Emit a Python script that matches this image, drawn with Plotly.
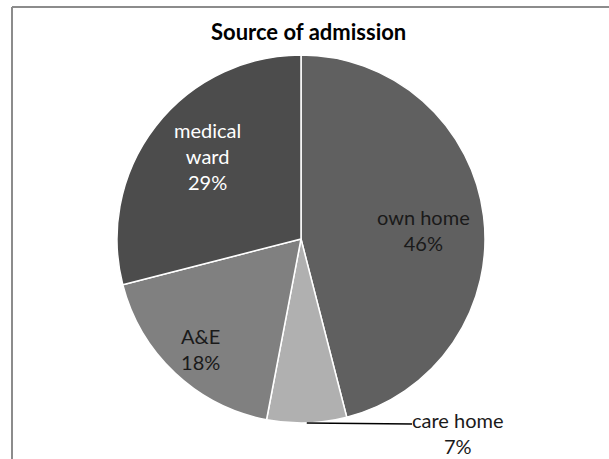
import math
import plotly.graph_objects as go

# Admission sources (percent of patients)
categories = ["own home", "care home", "A&E", "medical ward"]
shares = [46, 7, 18, 29]
slice_colors = ["#606060", "#b0b0b0", "#808080", "#4c4c4c"]
label_colors = ["#1a1a1a", "#1a1a1a", "#1a1a1a", "#ffffff"]
label_lines = [["own home"], ["care home"], ["A&E"], ["medical", "ward"]]

W, H = 609, 459
CX, CY, R = 301, 239, 184   # pie centre and radius in pixels
FONT = "Lato"

def px_x(x):
    return x / W

def px_y(y):
    return 1 - y / H

fig = go.Figure(go.Pie(
    labels=categories,
    values=shares,
    sort=False,
    direction="clockwise",
    rotation=0,
    marker=dict(colors=slice_colors, line=dict(color="#ffffff", width=1.5)),
    textinfo="none",
    hoverinfo="label+percent",
    showlegend=False,
    domain=dict(x=[px_x(CX - R), px_x(CX + R)], y=[px_y(CY + R), px_y(CY - R)]),
))

# mid-angle of each slice, clockwise from 12 o'clock
total = sum(shares)
mids = []
acc = 0
for v in shares:
    mids.append((acc + v / 2) / total * 360)
    acc += v

def point(angle_deg, rfrac):
    a = math.radians(angle_deg)
    return CX + rfrac * R * math.sin(a), CY - rfrac * R * math.cos(a)

# inside labels: (slice index, radial fraction, angle tweak)
inside = {0: (0.67, 3), 2: (0.81, -1), 3: (0.68, 4)}
annotations = []
for i, (rf, da) in inside.items():
    x, y = point(mids[i] + da, rf)
    text = "<br>".join(label_lines[i] + [f"{shares[i]}%"])
    annotations.append(dict(
        x=px_x(x), y=px_y(y), xref="paper", yref="paper",
        text=text, showarrow=False, align="center",
        xanchor="center", yanchor="middle",
        font=dict(family=FONT, size=20, color=label_colors[i]),
    ))

# care home label sits outside, joined by a leader line
ex, ey = point(mids[1], 1.0)
lx_end, ly_end = 412, 424
shapes = [dict(type="line", xref="paper", yref="paper",
               x0=px_x(ex), y0=px_y(ey), x1=px_x(lx_end), y1=px_y(ly_end),
               line=dict(color="#000000", width=1.5))]
annotations.append(dict(
    x=px_x(458), y=px_y(433), xref="paper", yref="paper",
    text="<br>".join(label_lines[1] + [f"{shares[1]}%"]),
    showarrow=False, align="center", xanchor="center", yanchor="middle",
    font=dict(family=FONT, size=20, color=label_colors[1]),
))

# title
annotations.append(dict(
    x=px_x(308), y=px_y(31), xref="paper", yref="paper",
    text="<b>Source of admission</b>", showarrow=False,
    xanchor="center", yanchor="middle",
    font=dict(family=FONT, size=22, color="#000000"),
))

# chart frame (left and top edges)
frame = dict(color="#8c8c8c", width=2)
shapes.append(dict(type="line", xref="paper", yref="paper",
                   x0=px_x(12), y0=px_y(7), x1=px_x(12), y1=px_y(H + 5), line=frame))
shapes.append(dict(type="line", xref="paper", yref="paper",
                   x0=px_x(12), y0=px_y(7), x1=px_x(W + 5), y1=px_y(7), line=frame))

fig.update_layout(
    width=W, height=H,
    margin=dict(l=0, r=0, t=0, b=0),
    paper_bgcolor="#ffffff",
    plot_bgcolor="#ffffff",
    annotations=annotations,
    shapes=shapes,
)

fig.write_html("out.html")
